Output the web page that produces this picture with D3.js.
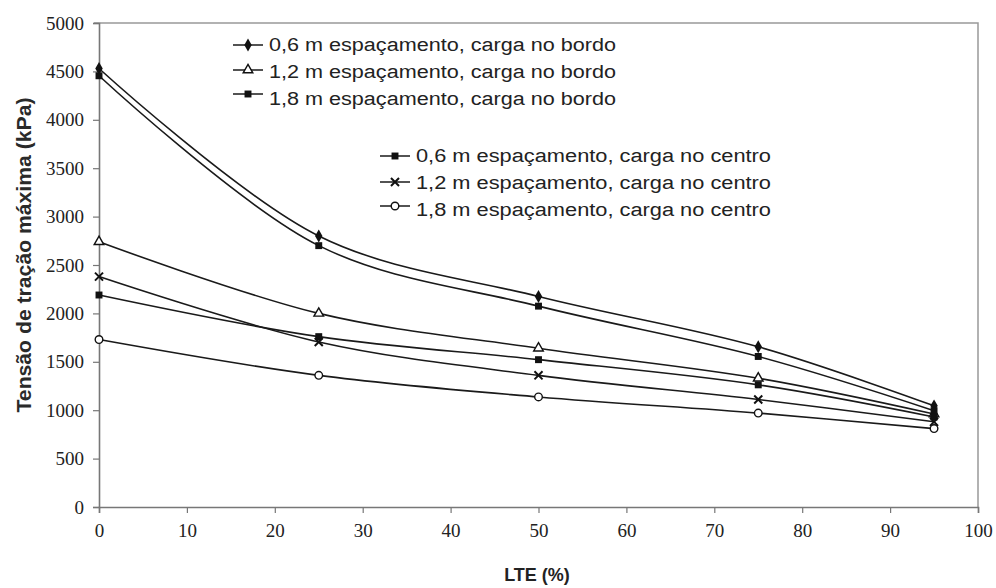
<!DOCTYPE html>
<html><head><meta charset="utf-8">
<script src="https://cdn.jsdelivr.net/npm/d3@7"></script>
<style>body{margin:0;background:#fff;} svg{display:block;}</style>
</head><body>
<script>
const lte = [0, 25, 50, 75, 95];
const bordo06 = [4530, 2800, 2175, 1655, 1045];
const bordo12 = [2740, 2000, 1640, 1330, 960];
const bordo18 = [4455, 2700, 2075, 1555, 995];
const centro06 = [2190, 1760, 1522, 1262, 930];
const centro12 = [2380, 1705, 1360, 1110, 880];
const centro18 = [1730, 1360, 1137, 970, 810];
const seriesNames = [
  "0,6 m espaçamento, carga no bordo",
  "1,2 m espaçamento, carga no bordo",
  "1,8 m espaçamento, carga no bordo",
  "0,6 m espaçamento, carga no centro",
  "1,2 m espaçamento, carga no centro",
  "1,8 m espaçamento, carga no centro"
];
const markers = ["diamond", "triangle", "square", "square", "cross", "circle"];
const xTicks = [0,10,20,30,40,50,60,70,80,90,100];
const yTicks = [0,500,1000,1500,2000,2500,3000,3500,4000,4500,5000];
const xTitle = "LTE (%)";
const yTitle = "Tensão de tração máxima (kPa)";

const allSeries = [bordo06, bordo12, bordo18, centro06, centro12, centro18];

const W = 996, H = 588;
const svg = d3.select("body").append("svg").attr("width", W).attr("height", H);
const x = d3.scaleLinear().domain([0,100]).range([99, 978]);
const y = d3.scaleLinear().domain([0,5000]).range([507, 23]);

svg.append("path").attr("d", `M${x(0)-5},${y(5000)}H${x(100)}V${y(0)}`)
  .attr("fill","none").attr("stroke","#999").attr("stroke-width",1.5);

const fontTick = "Liberation Serif, Times New Roman, DejaVu Serif, serif";
const gx = svg.append("g").attr("transform", `translate(0,${y(0)})`)
  .call(d3.axisBottom(x).tickValues(xTicks).tickSize(6).tickPadding(11).tickFormat(d3.format("d")));
const gy = svg.append("g").attr("transform", `translate(${x(0)},0)`)
  .call(d3.axisLeft(y).tickValues(yTicks).tickSize(6).tickPadding(9).tickFormat(d3.format("d")));
[gx, gy].forEach(g => {
  g.attr("font-family", fontTick).attr("font-size", 19);
  g.select(".domain").attr("stroke","#777").attr("stroke-width",1.6);
  g.selectAll(".tick line").attr("stroke","#777").attr("stroke-width",1.2);
  g.selectAll(".tick text").attr("fill","#222").attr("font-family",fontTick).attr("font-size",19);
});

svg.append("text").attr("x", 537).attr("y", 581).attr("text-anchor","middle")
  .attr("font-family","Liberation Sans Narrow, Arial Narrow, Liberation Sans, sans-serif")
  .attr("font-size",18).attr("font-weight","bold").attr("fill","#222").text(xTitle);
svg.append("text").attr("transform","translate(31,255) rotate(-90)").attr("text-anchor","middle")
  .attr("font-family","Liberation Sans, Arial, sans-serif")
  .attr("font-size",20).attr("font-weight","bold").attr("fill","#2a2a2a")
  .attr("textLength",315).attr("lengthAdjust","spacingAndGlyphs").text(yTitle);

const line = d3.line().x((d,i)=>x(lte[i])).y(d=>y(d)).curve(d3.curveCatmullRom.alpha(0.5));

function drawMarker(g, type, cx, cy) {
  const c = "#111";
  if (type === "diamond") {
    g.append("path").attr("d", d3.symbol(d3.symbolDiamond, 48)()).attr("transform",`translate(${cx},${cy})`).attr("fill",c);
  } else if (type === "square") {
    g.append("path").attr("d", d3.symbol(d3.symbolSquare, 48)()).attr("transform",`translate(${cx},${cy})`).attr("fill",c);
  } else if (type === "triangle") {
    g.append("path").attr("d", d3.symbol(d3.symbolTriangle, 40)()).attr("transform",`translate(${cx},${cy})`)
      .attr("fill","#fff").attr("stroke",c).attr("stroke-width",1.4);
  } else if (type === "circle") {
    g.append("circle").attr("cx",cx).attr("cy",cy).attr("r",3.8).attr("fill","#fff").attr("stroke",c).attr("stroke-width",1.4);
  } else if (type === "cross") {
    g.append("path").attr("d", d3.symbol(d3.symbolX, 44)()).attr("transform",`translate(${cx},${cy})`)
      .attr("fill","none").attr("stroke",c).attr("stroke-width",2);
  }
}

allSeries.forEach((s, k) => {
  const g = svg.append("g");
  g.append("path").attr("d", line(s)).attr("fill","none").attr("stroke","#1a1a1a").attr("stroke-width",1.6);
  s.forEach((v,i) => drawMarker(g, markers[k], x(lte[i]), y(v)));
});

const legendFont = "Liberation Sans, Arial, sans-serif";
function legend(idx, x0, lineLen, textYs, lineYs, textLen) {
  idx.forEach((k, j) => {
    const g = svg.append("g");
    const ly = lineYs[j], ty = textYs[j];
    g.append("line").attr("x1",x0).attr("x2",x0+lineLen).attr("y1",ly).attr("y2",ly).attr("stroke","#1a1a1a").attr("stroke-width",1.5);
    drawMarker(g, markers[k], x0+lineLen/2, ly);
    g.append("text").attr("x", x0+lineLen+6).attr("y", ty+6).attr("font-family",legendFont).attr("font-size",18)
      .attr("textLength", textLen).attr("lengthAdjust","spacingAndGlyphs")
      .attr("fill","#222").text(seriesNames[k]);
  });
}
legend([0,1,2], 233, 30, [45,72,99], [45,70,94], 347);
legend([3,4,5], 380, 30, [156,183,210], [156,182,206], 355);
</script>
</body></html>
